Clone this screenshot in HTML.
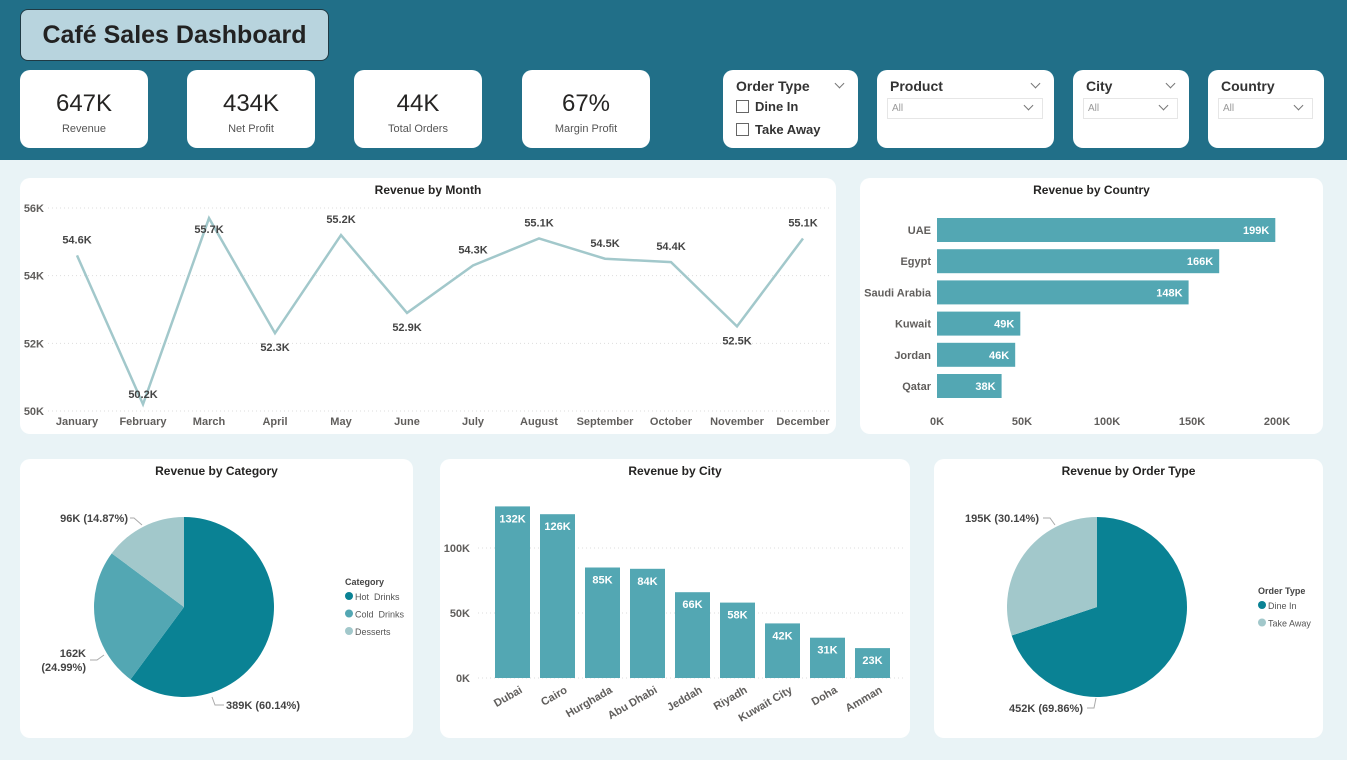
<!DOCTYPE html>
<html><head><meta charset="utf-8">
<style>
*{box-sizing:border-box;margin:0;padding:0}
body{width:1347px;height:760px;background:#e9f3f6;font-family:"Liberation Sans",sans-serif;position:relative;overflow:hidden;color:#252423}
.abs{position:absolute}
.header{left:0;top:0;width:1347px;height:160px;background:#216f88}
.title{left:20px;top:9px;width:309px;height:52px;background:#b8d4de;border:1px solid #1f3a44;border-radius:8px;font-size:25px;font-family:"Liberation Sans",sans-serif;font-weight:bold;display:flex;align-items:center;justify-content:center;color:#222;white-space:nowrap}
.card{background:#fff;border-radius:10px}
.kpi{top:70px;width:128px;height:78px;text-align:center}
.kpi .v{font-size:24px;margin-top:20px;color:#252423;font-family:"Liberation Sans Narrow","Liberation Sans",sans-serif}
.kpi .l{font-size:11px;color:#555;margin-top:5px}
.slicer{top:70px;height:78px}
.slicer .h{position:absolute;left:13px;top:8px;font-size:14px;font-weight:bold;color:#333}
.chev{position:absolute;width:7px;height:7px;border-right:1px solid #777;border-bottom:1px solid #777;transform:rotate(45deg)}
.dd{position:absolute;top:28px;height:21px;border:1px solid #e6e6e6;font-size:10px;color:#999;padding:4px 0 0 4px}
.cb{position:absolute;left:13px;width:13px;height:13px;border:1px solid #666}
.cbl{position:absolute;left:32px;font-size:13px;font-weight:bold;color:#333}
.ct{font-size:12px;font-weight:bold;text-align:center;color:#252423;position:absolute;width:100%;top:5px}
svg text{font-family:"Liberation Sans",sans-serif;white-space:pre}
</style></head><body>
<div class="abs header"></div>
<div class="abs title">Café Sales Dashboard</div>

<div class="abs card kpi" style="left:20px"><div class="v">647K</div><div class="l">Revenue</div></div>
<div class="abs card kpi" style="left:187px"><div class="v">434K</div><div class="l">Net Profit</div></div>
<div class="abs card kpi" style="left:354px"><div class="v">44K</div><div class="l">Total Orders</div></div>
<div class="abs card kpi" style="left:522px"><div class="v">67%</div><div class="l">Margin Profit</div></div>

<div class="abs card slicer" style="left:723px;width:135px">
 <div class="h">Order Type</div><div class="chev" style="left:113px;top:10px"></div>
 <div class="cb" style="top:30px"></div><div class="cbl" style="top:29px">Dine In</div>
 <div class="cb" style="top:53px"></div><div class="cbl" style="top:52px">Take Away</div>
</div>
<div class="abs card slicer" style="left:877px;width:177px">
 <div class="h">Product</div><div class="chev" style="left:155px;top:10px"></div>
 <div class="dd" style="left:10px;width:156px">All<div class="chev" style="left:137px;top:3px"></div></div>
</div>
<div class="abs card slicer" style="left:1073px;width:116px">
 <div class="h">City</div><div class="chev" style="left:94px;top:10px"></div>
 <div class="dd" style="left:10px;width:95px">All<div class="chev" style="left:76px;top:3px"></div></div>
</div>
<div class="abs card slicer" style="left:1208px;width:116px">
 <div class="h">Country</div>
 <div class="dd" style="left:10px;width:95px">All<div class="chev" style="left:76px;top:3px"></div></div>
</div>

<div class="abs card" style="left:20px;top:178px;width:816px;height:256px"><div class="ct">Revenue by Month</div></div>
<div class="abs card" style="left:860px;top:178px;width:463px;height:256px"><div class="ct">Revenue by Country</div></div>
<div class="abs card" style="left:20px;top:459px;width:393px;height:279px"><div class="ct">Revenue by Category</div></div>
<div class="abs card" style="left:440px;top:459px;width:470px;height:279px"><div class="ct">Revenue by City</div></div>
<div class="abs card" style="left:934px;top:459px;width:389px;height:279px"><div class="ct">Revenue by Order Type</div></div>

<svg id="s" class="abs" style="left:0;top:0" width="1347" height="760"></svg>

<script>
const months=["January","February","March","April","May","June","July","August","September","October","November","December"];
const monthVals=[54.6,50.2,55.7,52.3,55.2,52.9,54.3,55.1,54.5,54.4,52.5,55.1];
const monthTicks=[50,52,54,56];
const countries=["UAE","Egypt","Saudi Arabia","Kuwait","Jordan","Qatar"];
const countryVals=[199,166,148,49,46,38];
const countryTicks=[0,50,100,150,200];
const cities=["Dubai","Cairo","Hurghada","Abu Dhabi","Jeddah","Riyadh","Kuwait City","Doha","Amman"];
const cityVals=[132,126,85,84,66,58,42,31,23];
const cityTicks=[0,50,100];
const categories=["Hot  Drinks","Cold  Drinks","Desserts"];
const categoryVals=[389,162,96];
const categoryPct=[60.14,24.99,14.87];
const orderTypes=["Dine In","Take Away"];
const orderVals=[452,195];
const orderPct=[69.86,30.14];

const S=document.getElementById('s');const NS="http://www.w3.org/2000/svg";
function el(t,a,txt){const e=document.createElementNS(NS,t);for(const k in a)e.setAttribute(k,a[k]);if(txt!==undefined)e.textContent=txt;S.appendChild(e);return e;}
const AX="#605e5c";

// Line chart
const lx=i=>77+i*66, ly=v=>411-(v-50)*(203/6);
monthTicks.forEach(t=>{const g=el('line',{x1:48,x2:830,y1:ly(t),y2:ly(t),stroke:'#ddd','stroke-dasharray':'1 3'});
 const tx=el('text',{x:44,y:ly(t)+4,'text-anchor':'end','font-size':11,fill:AX,'font-weight':'bold'},t+'K');});
months.forEach((m,i)=>{const t=el('text',{x:lx(i),y:425,'text-anchor':'middle','font-size':11,fill:AX,'font-weight':'bold'},m);});
const line=el('polyline',{points:monthVals.map((v,i)=>lx(i)+','+ly(v)).join(' '),fill:'none',stroke:'#a2c8cb','stroke-width':2.5});

monthVals.forEach((v,i)=>{const prev=monthVals[i-1],next=monthVals[i+1];const low=(prev===undefined||v<prev)&&(next===undefined||v<next);
 let y=low?ly(v)+18:ly(v)-12; if(y<214)y=ly(v)+15; if(y>400)y=ly(v)-6;
 const t=el('text',{x:lx(i),y:y,'text-anchor':'middle','font-size':11,fill:'#444','font-weight':'bold'},v.toFixed(1)+'K');
 });

// Country bars
const cx=v=>937+v*1.7, cy=i=>230+i*31.2;
countryTicks.forEach(t=>{const tx=el('text',{x:cx(t),y:425,'text-anchor':'middle','font-size':11,fill:AX,'font-weight':'bold'},t+'K');});
countries.forEach((c,i)=>{const r=el('rect',{x:937,y:cy(i)-12,width:cx(countryVals[i])-937,height:24,fill:'#53a7b3'});
 const l=el('text',{x:931,y:cy(i)+4,'text-anchor':'end','font-size':11,fill:AX,'font-weight':'bold'},c);
 const v=el('text',{x:cx(countryVals[i])-6,y:cy(i)+4,'text-anchor':'end','font-size':11,fill:'#fff','font-weight':'bold'},countryVals[i]+'K');});

// City bars
const bx=i=>495+i*45, by=v=>678-v*1.3;
cityTicks.forEach(t=>{const g=el('line',{x1:478,x2:905,y1:by(t),y2:by(t),stroke:'#ddd','stroke-dasharray':'1 3'});
 const tx=el('text',{x:470,y:by(t)+4,'text-anchor':'end','font-size':11,fill:AX,'font-weight':'bold'},t+'K');});
cities.forEach((c,i)=>{const v=cityVals[i];const r=el('rect',{x:bx(i),y:by(v),width:35,height:by(0)-by(v),fill:'#53a7b3'});
 const t=el('text',{x:bx(i)+17.5,y:by(v)+16,'text-anchor':'middle','font-size':11,fill:'#fff','font-weight':'bold'},v+'K');
 const l=el('text',{x:bx(i)+28,y:692,'text-anchor':'end','font-size':11,fill:AX,'font-weight':'bold',transform:`rotate(-30 ${bx(i)+28} 692)`},c);});

// Pies
function pie(cx0,cy0,r,vals,cols,name){const tot=vals.reduce((a,b)=>a+b,0);let a0=-Math.PI/2;
 vals.forEach((v,i)=>{const a1=a0+v/tot*2*Math.PI;const large=(a1-a0)>Math.PI?1:0;
  const p=el('path',{d:`M${cx0},${cy0} L${cx0+r*Math.cos(a0)},${cy0+r*Math.sin(a0)} A${r},${r} 0 ${large} 1 ${cx0+r*Math.cos(a1)},${cy0+r*Math.sin(a1)} Z`,fill:cols[i]});
  a0=a1;});}
pie(184,607,90,categoryVals,['#0a8294','#53a7b3','#a2c8cb'],'category-slice');
pie(1097,607,90,orderVals,['#0a8294','#a2c8cb'],'order-type-slice');
function lab(x,y,t,anchor,name,fs){const e=el('text',{x:x,y:y,'text-anchor':anchor,'font-size':fs||11,fill:'#444','font-weight':'bold'},t);}
function lead(pts){const e=el('polyline',{points:pts,fill:'none',stroke:'#aaa'});}
lab(226,709,categoryVals[0]+'K ('+categoryPct[0].toFixed(2)+'%)','start','category-label-hot');lead('212,697 215,705 224,705');
lab(86,657,categoryVals[1]+'K','end','category-label-cold');lab(86,671,'('+categoryPct[1].toFixed(2)+'%)','end','category-label-cold-pct');lead('90,660 97,660 104,655');
lab(128,522,categoryVals[2]+'K ('+categoryPct[2].toFixed(2)+'%)','end','category-label-desserts');lead('130,518 134,518 142,525');
lab(1083,712,orderVals[0]+'K ('+orderPct[0].toFixed(2)+'%)','end','order-label-dine-in');lead('1087,708 1094,708 1096,698');
lab(1039,522,orderVals[1]+'K ('+orderPct[1].toFixed(2)+'%)','end','order-label-take-away');lead('1043,518 1050,518 1055,525');
function legend(x,y,title,items,cols,name){lab(x,y,title,'start',name+'-title',9);items.forEach((it,i)=>{const c=el('circle',{cx:x+4,cy:y+11+i*17.5,r:4,fill:cols[i]});
 const t=el('text',{x:x+10,y:y+15+i*17.5,'font-size':9,fill:'#555'},it);});}
legend(345,585,'Category',categories,['#0a8294','#53a7b3','#a2c8cb'],'category-legend');
legend(1258,594,'Order Type',orderTypes,['#0a8294','#a2c8cb'],'order-legend');
</script>
</body></html>
